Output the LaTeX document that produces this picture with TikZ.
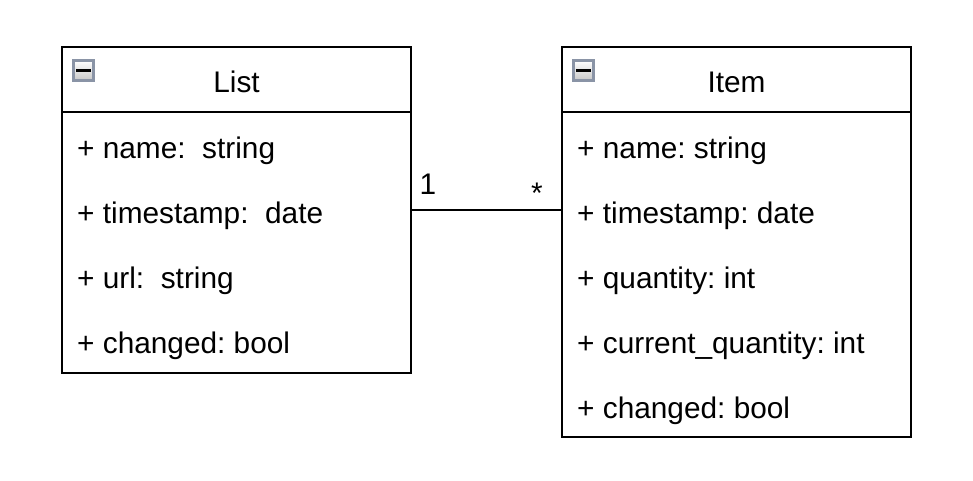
\documentclass[tikz,border=0pt]{standalone}
\usepackage{fontspec}
\setmainfont{Liberation Sans}
\frenchspacing
\begin{document}
\begin{tikzpicture}[x=1pt,y=-1pt,
  classbox/.style={draw=black,line width=2pt,fill=white,inner sep=0pt},
  sep/.style={line width=2pt},
  icon/.style={draw={rgb,255:red,138;green,148;blue,166},line width=2.8pt,top color=white,bottom color=black!22,minimum width=20pt,minimum height=20pt,inner sep=0pt},
  minus/.style={line width=3.4pt,black},
  attr/.style={anchor=base west,inner sep=0pt,font=\fontsize{29.8}{34}\selectfont},
  title/.style={anchor=base,inner sep=0pt,font=\fontsize{29.8}{34}\selectfont},
  conn/.style={line width=2pt}]
\useasboundingbox[fill=white] (0,0) rectangle (973,481);
% List class
\node[classbox,minimum width=349pt,minimum height=326pt] (list) at (236.5,210) {};
\draw[sep] (62,112) -- (411,112);
\node[icon] (iconL) at (83.5,70.5) {};
\draw[minus] ([xshift=-7.5pt]iconL.center) -- ([xshift=7.5pt]iconL.center);
\node[title] (listT) at (236.5,92.5) {List};
\node[attr] (l1) at (77,158) {+ name:\ \ string};
\node[attr] (l2) at (77,223) {+ timestamp:\ \ date};
\node[attr] (l3) at (77,288) {+ url:\ \ string};
\node[attr] (l4) at (77,353) {+ changed: bool};
% Item class
\node[classbox,minimum width=349pt,minimum height=390pt] (item) at (736.5,242) {};
\draw[sep] (562,112) -- (911,112);
\node[icon] (iconI) at (583.3,70.5) {};
\draw[minus] ([xshift=-7.5pt]iconI.center) -- ([xshift=7.5pt]iconI.center);
\node[title] (itemT) at (736.5,92.5) {Item};
\node[attr] (i1) at (577,158) {+ name: string};
\node[attr] (i2) at (577,223) {+ timestamp: date};
\node[attr] (i3) at (577,288) {+ quantity: int};
\node[attr] (i4) at (577,353) {+ current\_quantity: int};
\node[attr] (i5) at (577,418) {+ changed: bool};
% connector
\draw[conn] (list.east) -- (list.east -| item.west);
\node[title] (m1) at (428,194.5) {1};
\node[title] (m2) at (537,203) {*};
\end{tikzpicture}
\end{document}
